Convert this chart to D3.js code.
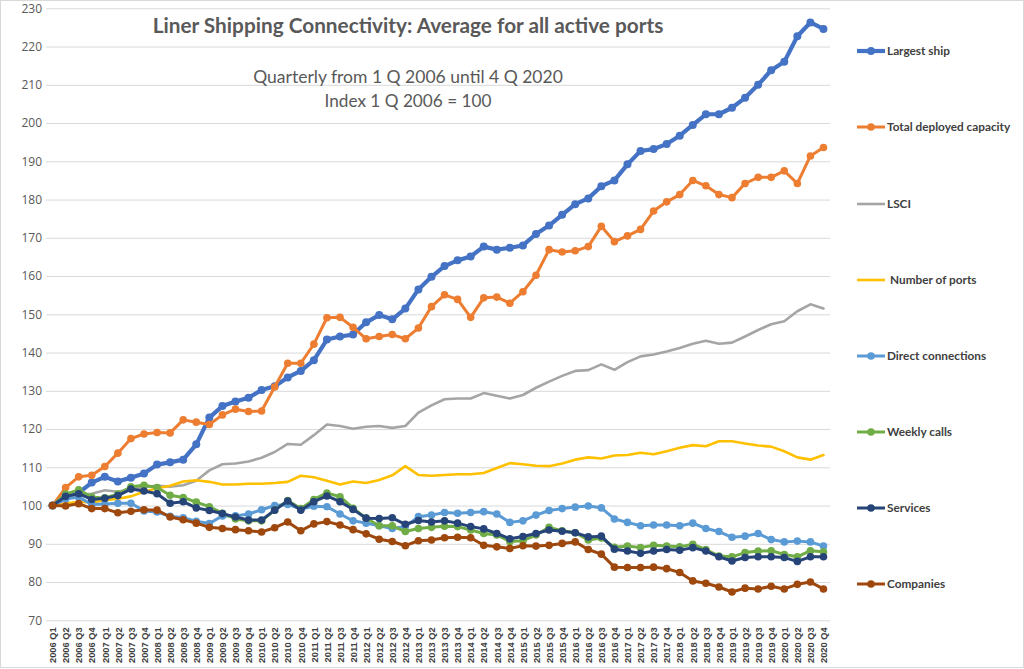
<!DOCTYPE html>
<html><head><meta charset="utf-8">
<script src="https://cdn.jsdelivr.net/npm/d3@7"></script>
<style>
html,body{margin:0;padding:0;background:#fff;}
svg{display:block;}
</style></head>
<body>
<svg id="chart" width="1024" height="669"></svg>
<script>
const years = d3.range(2006, 2021);
const quarters = [];
years.forEach(y => ["Q1","Q2","Q3","Q4"].forEach(q => quarters.push(y + " " + q)));

const yTicks = [70,80,90,100,110,120,130,140,150,160,170,180,190,200,210,220,230];

const largestShip = [100,102,103.3,106,107.5,106.3,107.3,108.4,110.7,111.3,112,116,123,126,127.2,128.2,130.2,131.2,133.5,135.2,138,143.4,144.2,144.7,147.9,149.8,148.7,151.5,156.5,159.8,162.6,164.1,165.1,167.7,166.9,167.4,168,171,173.2,176,178.8,180.3,183.5,185,189.2,192.7,193.2,194.5,196.7,199.5,202.3,202.3,204,206.6,210,213.8,216,222.7,226.3,224.6];
const totalCapacity = [100,104.7,107.5,107.9,110.2,113.7,117.5,118.7,119.1,119,122.4,121.8,121.2,123.7,125.2,124.6,124.7,131,137.2,137.2,142.2,149.1,149.2,146.6,143.6,144.2,144.7,143.6,146.4,152,155.1,153.9,149.2,154.3,154.5,152.9,155.9,160.2,166.9,166.3,166.6,167.7,173,169,170.5,172.2,177,179.4,181.3,185,183.6,181.3,180.5,184.2,185.8,185.8,187.5,184.2,191.4,193.6];
const lsci = [100,101.9,102.8,103.1,104,103.6,104.3,104.8,105.2,104.9,105.3,106.5,109.2,110.8,111,111.5,112.5,114,116.1,115.9,118.4,121.2,120.8,120.1,120.6,120.8,120.3,120.8,124.3,126.2,127.8,128,128,129.4,128.7,128,128.9,130.8,132.4,133.9,135.2,135.4,136.9,135.5,137.5,139,139.5,140.3,141.2,142.3,143.1,142.3,142.6,144.2,145.9,147.4,148.2,150.8,152.6,151.5];
const numberOfPorts = [100,100.5,101,100.8,101.4,101.8,102.4,103.6,104.5,105.2,106.3,106.6,106.2,105.5,105.5,105.7,105.7,105.9,106.2,107.8,107.4,106.5,105.5,106.3,105.9,106.7,107.9,110.3,108,107.8,108,108.2,108.2,108.5,109.8,111.1,110.8,110.4,110.3,111,112,112.6,112.3,113.1,113.2,113.8,113.4,114.2,115.1,115.8,115.5,116.8,116.8,116.2,115.7,115.4,114.2,112.6,112,113.2];
const directConnections = [100,101.7,102.2,100.3,100.4,100.6,100.6,98.6,98.3,97.2,96.8,95.9,95.3,97.3,97.3,97.8,98.9,100,100.3,99.1,99.8,99.7,97.8,96,95.4,94.7,94,94.5,97.1,97.5,98.2,98,98.2,98.4,97.8,95.6,96,97.5,98.7,99.2,99.6,99.9,99.4,96.5,95.6,94.7,94.9,94.9,94.7,95.4,94,93.2,91.7,92,92.7,91.1,90.5,90.7,90.5,89.4];
const weeklyCalls = [100,103,104.1,102.2,102,103,104.9,105.3,104.7,102.7,102.1,100.9,99.7,98,96.5,96,96,98.8,101.3,99.2,101.6,103.3,102.3,99.3,96.7,94.7,94.7,93.2,94,94.3,94.6,94.5,93.6,92.7,92.3,90.6,90.8,92.3,94.3,93.4,92.9,91,91.5,89.1,89.4,89,89.6,89.4,89.2,89.9,88.5,86.8,86.6,87.7,88.1,88.2,87.2,86.6,88.2,87.9];
const services = [100,102.4,103.1,101.6,101.9,102.6,104.3,103.8,103.1,100.6,101,99.4,98.7,97.9,97,96.2,96.2,98.8,101.2,98.8,101,102.5,101,99,96.7,96.6,96.8,95.1,96.1,95.7,96,95.4,94.5,93.9,92.7,91.3,91.9,92.7,93.6,93.3,92.9,91.8,92,88.6,88.1,87.5,88.1,88.5,88.3,89,88.1,86.6,85.5,86.4,86.6,86.6,86.4,85.4,86.6,86.6];
const companies = [100,99.9,100.5,99.2,99.2,98.1,98.5,98.9,98.8,97,96.3,95.4,94.3,94,93.7,93.4,93.1,94.2,95.7,93.4,95.2,95.8,94.9,93.7,92.6,91.2,90.6,89.5,90.8,91,91.6,91.7,91.6,89.6,89.2,88.8,89.5,89.4,89.6,90.1,90.5,88.5,87.3,83.9,83.8,83.8,83.9,83.5,82.5,80.3,79.7,78.7,77.4,78.4,78.2,78.9,78.2,79.4,80,78.2];

const seriesNames = ["Largest ship","Total deployed capacity","LSCI","Number of ports","Direct connections","Weekly calls","Services","Companies"];
const seriesValues = [largestShip,totalCapacity,lsci,numberOfPorts,directConnections,weeklyCalls,services,companies];
const seriesColors = ["#4472C4","#ED7D31","#A5A5A5","#FFC000","#5B9BD5","#70AD47","#264478","#9E480E"];
const seriesMarkers = [true,true,false,false,true,true,true,true];
const seriesWidths = [4.2,3,2.6,2.6,3,3,3,3];
const markerRadius = [4,3.8,0,0,3.8,3.8,3.8,3.8];

const titleText = "Liner Shipping Connectivity: Average for all active ports";
const subtitle1 = "Quarterly from 1 Q 2006 until 4 Q 2020";
const subtitle2 = "Index 1 Q 2006 = 100";

const svg = d3.select("#chart");
const W = 1024, H = 669;
const plot = {left: 46, right: 830, top: 8.3, bottom: 620.3};

svg.append("rect").attr("x",0.5).attr("y",0.5).attr("width",W-1).attr("height",H-2)
  .attr("fill","#fff").attr("stroke","#d9d9d9");

const x = d3.scalePoint().domain(quarters).range([plot.left, plot.right]).padding(0.5);
const y = d3.scaleLinear().domain([70,230]).range([plot.bottom, plot.top]);

// gridlines
svg.append("g").attr("transform",`translate(${plot.left},0)`)
  .call(d3.axisLeft(y).tickValues(yTicks).tickSize(-(plot.right-plot.left)).tickFormat(""))
  .call(g => g.select(".domain").remove())
  .call(g => g.selectAll("line").attr("stroke","#d9d9d9").attr("stroke-width",1));

// y labels
svg.append("g").attr("transform",`translate(${plot.left-4},0)`)
  .call(d3.axisLeft(y).tickValues(yTicks).tickSize(0).tickPadding(0))
  .call(g => g.select(".domain").remove())
  .call(g => g.selectAll("text").attr("fill","#595959").attr("font-family","'Open Sans', sans-serif").attr("font-size","12px"));

// x labels
svg.append("g").attr("transform",`translate(0,${plot.bottom})`)
  .call(d3.axisBottom(x).tickSize(0).tickPadding(0))
  .call(g => g.select(".domain").remove())
  .call(g => g.selectAll("text")
    .attr("fill","#404040").attr("font-family","'Liberation Sans', Arial, sans-serif")
    .attr("font-size","9.3px").attr("font-weight","bold")
    .attr("transform","rotate(-90)").attr("text-anchor","end")
    .attr("x",-7).attr("y",0).attr("dy","0.35em"));

// series
const line = d3.line().x((d,i) => x(quarters[i])).y(d => y(d));
seriesValues.forEach((vals, s) => {
  const g = svg.append("g");
  g.append("path").datum(vals).attr("d", line).attr("fill","none")
    .attr("stroke", seriesColors[s]).attr("stroke-width", seriesWidths[s])
    .attr("stroke-linejoin","round").attr("stroke-linecap","round");
  if (seriesMarkers[s]) {
    g.selectAll("circle").data(vals).join("circle")
      .attr("cx",(d,i)=>x(quarters[i])).attr("cy",d=>y(d)).attr("r",markerRadius[s])
      .attr("fill",seriesColors[s]);
  }
});

// title
function fit(sel, target){
  const w = sel.node().getComputedTextLength();
  const fs = parseFloat(sel.attr("font-size"));
  sel.attr("font-size", (fs*target/w).toFixed(2)+"px");
}
const t = svg.append("text").attr("x",408).attr("y",33).attr("text-anchor","middle")
  .attr("font-family","Lato, sans-serif").attr("font-weight","bold").attr("font-size","18px")
  .attr("fill","#595959").text(titleText);
fit(t, 511);
const s1 = svg.append("text").attr("x",408).attr("y",83).attr("text-anchor","middle")
  .attr("font-family","Lato, sans-serif").attr("font-size","17px").attr("fill","#595959").text(subtitle1);
fit(s1, 310);
const s2 = svg.append("text").attr("x",408).attr("y",107).attr("text-anchor","middle")
  .attr("font-family","Lato, sans-serif").attr("font-size","17px").attr("fill","#595959").text(subtitle2);
fit(s2, 167);

// legend
const legendY = [51,127,204,280,356,432,508,584];
const lg = svg.append("g");
seriesNames.forEach((name, s) => {
  const gy = legendY[s];
  lg.append("line").attr("x1",857).attr("x2",885).attr("y1",gy).attr("y2",gy)
    .attr("stroke",seriesColors[s]).attr("stroke-width",seriesWidths[s]);
  if (seriesMarkers[s]) lg.append("circle").attr("cx",871).attr("cy",gy).attr("r",markerRadius[s]).attr("fill",seriesColors[s]);
  lg.append("text").attr("x", s===3 ? 890 : 887).attr("y",gy).attr("dy","0.35em")
    .attr("font-family","Lato, sans-serif").attr("font-weight","bold").attr("font-size","11.8px")
    .attr("fill","#404040").text(name);
});
</script>
</body></html>
